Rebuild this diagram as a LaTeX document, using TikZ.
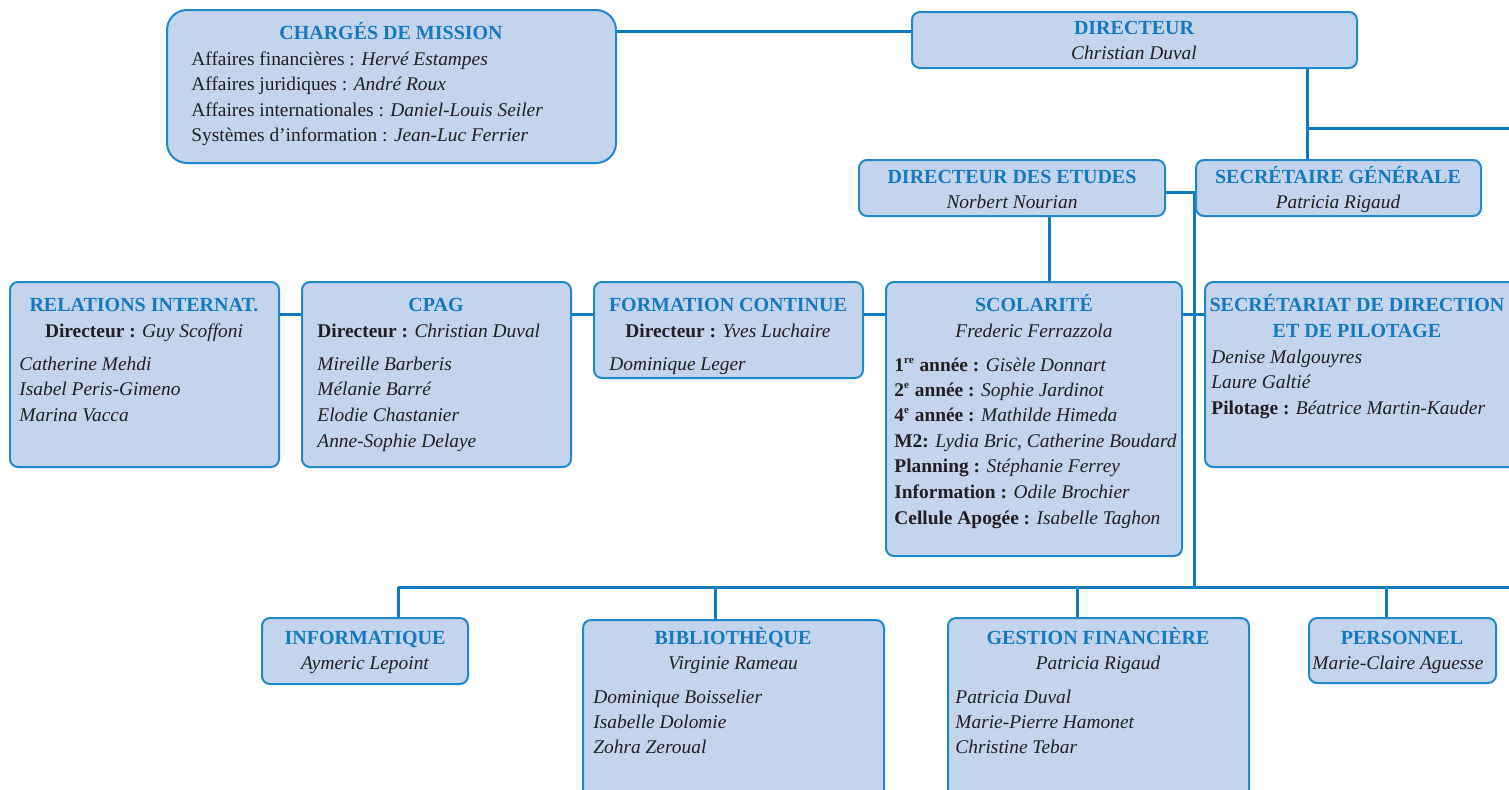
\documentclass[tikz,border=0pt]{standalone}
\usepackage{fontspec}
\setmainfont{Liberation Serif}
\usetikzlibrary{fit}
\pgfdeclarelayer{background}
\pgfsetlayers{background,main}
\definecolor{boxfill}{HTML}{C3D4EC}
\definecolor{boxdraw}{HTML}{2089CC}
\definecolor{linecol}{HTML}{0F7BC1}
\definecolor{titlecol}{HTML}{1479BE}
\definecolor{txtcol}{HTML}{231F20}
\tikzset{
  orgbox/.style={draw=boxdraw, fill=boxfill, line width=1pt, rounded corners=4pt, inner sep=0pt},
  bigbox/.style={orgbox, rounded corners=10pt},
  conn/.style={draw=linecol, line width=1.5pt},
  ttl/.style={font=\fontsize{10}{12}\selectfont\bfseries, text=titlecol, inner sep=0pt, text height=7pt, text depth=2pt, yshift=-1pt},
  ctr/.style={font=\fontsize{9.7}{12}\selectfont, text=txtcol, inner sep=0pt, text height=7pt, text depth=2pt, yshift=-1pt},
  lft/.style={ctr, anchor=west},
}
\newcommand{\mysup}[1]{\textsuperscript{\fontsize{5.5}{6}\selectfont #1}}
\begin{document}
\begin{tikzpicture}[x=0.5pt,y=-0.5pt]
\clip (0,0) rectangle (1509,789);

% boxes
\node[bigbox, fit={(167,10) (616,163)}] (cm) {};
\node[orgbox, fit={(912,12) (1357,68)}] (dir) {};
\node[orgbox, fit={(859,160) (1165,216)}] (dde) {};
\node[orgbox, fit={(1196,160) (1481,216)}] (sg) {};
\node[orgbox, fit={(10,282) (279,467)}] (ri) {};
\node[orgbox, fit={(302,282) (571,467)}] (cpag) {};
\node[orgbox, fit={(594,282) (863,378)}] (fc) {};
\node[orgbox, fit={(886,282) (1182,556)}] (scol) {};
\node[orgbox, fit={(1205,282) (1525,467)}] (secr) {};
\node[orgbox, fit={(262,618) (468,684)}] (info) {};
\node[orgbox, fit={(583,620) (884,805)}] (bib) {};
\node[orgbox, fit={(948,618) (1249,805)}] (gf) {};
\node[orgbox, fit={(1309,618) (1496,683)}] (pers) {};

% chargés de mission
\node[ttl] (cmt) at (391,32) {CHARGÉS DE MISSION};
\node[lft] (cm1) at (191,58) {Affaires financières : \textit{Hervé Estampes}};
\node[lft] (cm2) at (191,83) {Affaires juridiques : \textit{André Roux}};
\node[lft] (cm3) at (191,109) {Affaires internationales : \textit{Daniel-Louis Seiler}};
\node[lft] (cm4) at (191,134) {Systèmes d’information : \textit{Jean-Luc Ferrier}};

% directeur
\node[ttl] (dirt) at (1134,27) {DIRECTEUR};
\node[ctr] (dirn) at (1134,52) {\itshape Christian Duval};
\node[ttl] (ddet) at (1012,176) {DIRECTEUR DES ETUDES};
\node[ctr] (dden) at (1012,201) {\itshape Norbert Nourian};
\node[ttl] (sgt) at (1338,176) {SECRÉTAIRE GÉNÉRALE};
\node[ctr] (sgn) at (1338,201) {\itshape Patricia Rigaud};

% relations internat.
\node[ttl] (rit) at (144,304) {RELATIONS INTERNAT.};
\node[ctr] (rid) at (144,330) {\textbf{Directeur :} \textit{Guy Scoffoni}};
\node[lft] (ri1) at (19,363) {\itshape Catherine Mehdi};
\node[lft] (ri2) at (19,388) {\itshape Isabel Peris-Gimeno};
\node[lft] (ri3) at (19,414) {\itshape Marina Vacca};

% cpag
\node[ttl] (cpagt) at (436,304) {CPAG};
\node[lft] (cpagd) at (317,330) {\textbf{Directeur :} \textit{Christian Duval}};
\node[lft] (cpag1) at (317,363) {\itshape Mireille Barberis};
\node[lft] (cpag2) at (317,388) {\itshape Mélanie Barré};
\node[lft] (cpag3) at (317,414) {\itshape Elodie Chastanier};
\node[lft] (cpag4) at (317,440) {\itshape Anne-Sophie Delaye};

% formation continue
\node[ttl] (fct) at (728,304) {FORMATION CONTINUE};
\node[ctr] (fcd) at (728,330) {\textbf{Directeur :} \textit{Yves Luchaire}};
\node[lft] (fc1) at (609,363) {\itshape Dominique Leger};

% scolarité
\node[ttl] (scolt) at (1034,304) {SCOLARITÉ};
\node[ctr] (scoln) at (1034,330) {\itshape Frederic Ferrazzola};
\node[lft] (sc1) at (894,364) {\textbf{1\mysup{re} année :} \textit{Gisèle Donnart}};
\node[lft] (sc2) at (894,389) {\textbf{2\mysup{e} année :} \textit{Sophie Jardinot}};
\node[lft] (sc3) at (894,414) {\textbf{4\mysup{e} année :} \textit{Mathilde Himeda}};
\node[lft] (sc4) at (894,440) {\textbf{M2:} \textit{Lydia Bric, Catherine Boudard}};
\node[lft] (sc5) at (894,465) {\textbf{Planning :} \textit{Stéphanie Ferrey}};
\node[lft] (sc6) at (894,491) {\textbf{Information :} \textit{Odile Brochier}};
\node[lft] (sc7) at (894,517) {\textbf{Cellule Apogée :} \textit{Isabelle Taghon}};

% secrétariat
\node[ttl] (secrt1) at (1357,304) {SECRÉTARIAT DE DIRECTION};
\node[ttl] (secrt2) at (1357,330) {ET DE PILOTAGE};
\node[lft] (secr1) at (1211,356) {\itshape Denise Malgouyres};
\node[lft] (secr2) at (1211,381) {\itshape Laure Galtié};
\node[lft] (secr3) at (1211,407) {\textbf{Pilotage :} \textit{Béatrice Martin-Kauder}};

% bottom row
\node[ttl] (infot) at (365,637) {INFORMATIQUE};
\node[ctr] (infon) at (365,662) {\itshape Aymeric Lepoint};
\node[ttl] (bibt) at (733,637) {BIBLIOTHÈQUE};
\node[ctr] (bibn) at (733,662) {\itshape Virginie Rameau};
\node[lft] (bib1) at (593,696) {\itshape Dominique Boisselier};
\node[lft] (bib2) at (593,721) {\itshape Isabelle Dolomie};
\node[lft] (bib3) at (593,746) {\itshape Zohra Zeroual};
\node[ttl] (gft) at (1098,637) {GESTION FINANCIÈRE};
\node[ctr] (gfn) at (1098,662) {\itshape Patricia Rigaud};
\node[lft] (gf1) at (955,696) {\itshape Patricia Duval};
\node[lft] (gf2) at (955,721) {\itshape Marie-Pierre Hamonet};
\node[lft] (gf3) at (955,746) {\itshape Christine Tebar};
\node[ttl] (perst) at (1402,637) {PERSONNEL};
\node[ctr] (persn) at (1398,662) {\itshape Marie-Claire Aguesse};

% junction coordinates
\coordinate (jtop) at (0,31);
\coordinate (jdir) at (1307,128);
\coordinate (edge1) at (1509,128);
\coordinate (jv) at (1194,192);
\coordinate (jbus) at (1194,587);
\coordinate (jk) at (1049,0);
\coordinate (jrow) at (0,314);
\coordinate (busl) at (398,587);
\coordinate (busr) at (1509,587);
\coordinate (dbib) at (715,587);
\coordinate (dgf) at (1077,587);
\coordinate (dpers) at (1386,587);

\begin{pgfonlayer}{background}
\draw[conn] (cm.east |- jtop) -- (dir.west |- jtop);
\draw[conn] (jdir |- dir.south) -- (jdir |- sg.north);
\draw[conn] (jdir) -- (edge1);
\draw[conn] (dde.east |- jv) -- (jv) -- (jbus);
\draw[conn] (jk |- dde.south) -- (jk |- scol.north);
\draw[conn] (ri.east |- jrow) -- (cpag.west |- jrow);
\draw[conn] (cpag.east |- jrow) -- (fc.west |- jrow);
\draw[conn] (fc.east |- jrow) -- (scol.west |- jrow);
\draw[conn] (scol.east |- jrow) -- (secr.west |- jrow);
\draw[conn] (busl) -- (busr);
\draw[conn] (busl) -- (busl |- info.north);
\draw[conn] (dbib) -- (dbib |- bib.north);
\draw[conn] (dgf) -- (dgf |- gf.north);
\draw[conn] (dpers) -- (dpers |- pers.north);
\end{pgfonlayer}
\end{tikzpicture}
\end{document}
